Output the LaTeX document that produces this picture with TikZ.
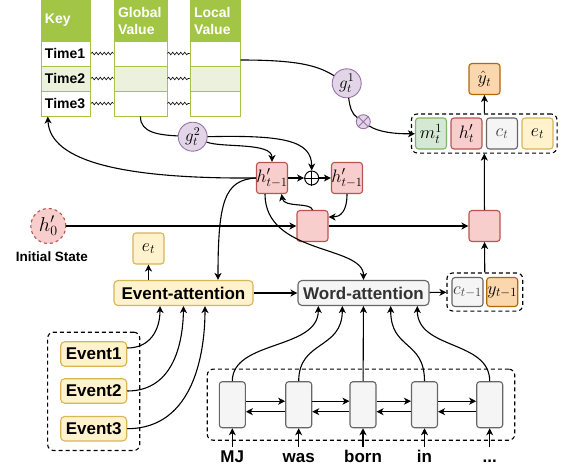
\documentclass[tikz,border=0pt]{standalone}
\usepackage{fix-cm}
\usepackage[no-math]{fontspec}
\setmainfont{Liberation Sans}
\usetikzlibrary{arrows.meta, positioning, fit, calc, decorations.pathmorphing}
\definecolor{redfill}{HTML}{F8CECC}
\definecolor{redline}{HTML}{B85450}
\definecolor{purfill}{HTML}{E1D5E7}
\definecolor{purline}{HTML}{9673A6}
\definecolor{yelfill}{HTML}{FFF2CC}
\definecolor{yelline}{HTML}{D6B656}
\definecolor{grayfill}{HTML}{F5F5F5}
\definecolor{grayline}{HTML}{666666}
\definecolor{grnfill}{HTML}{D5E8D4}
\definecolor{grnline}{HTML}{82B366}
\definecolor{orgfill}{HTML}{FAD7AC}
\definecolor{orgline}{HTML}{B46504}
\definecolor{tabhead}{HTML}{A2C546}
\definecolor{tabrow}{HTML}{EBF1DD}

\tikzset{
  conn/.style={line width=1.1pt},
  arr/.style={conn, -{Stealth[length=7pt,width=7pt,inset=2pt]}},
  squig/.style={line width=0.6pt, decorate, decoration={snake, amplitude=1.3pt, segment length=4pt}},
  headcell/.style={draw=tabhead, fill=tabhead, line width=1pt, minimum height=41pt, inner xsep=4pt, inner ysep=0pt, align=left, text=white, font=\fontsize{14}{17}\selectfont\bfseries},
  rowcell/.style={draw=tabhead, fill=white, line width=1pt, minimum height=25pt, inner xsep=4pt, inner ysep=0pt, align=left, font=\fontsize{14}{17}\selectfont\bfseries},
  mathbox/.style={rounded corners=3pt, line width=1.1pt, minimum width=31pt, minimum height=31pt, inner sep=0pt, font=\fontsize{18}{20}\selectfont},
  redbox/.style={mathbox, draw=redline, fill=redfill},
  yelbox/.style={mathbox, draw=yelline, fill=yelfill},
  graybox/.style={mathbox, draw=grayline, fill=grayfill, text=black!75},
  grnbox/.style={mathbox, draw=grnline, fill=grnfill},
  orgbox/.style={mathbox, draw=orgline, fill=orgfill},
  gate/.style={circle, draw=purline, fill=purfill, line width=0.9pt, minimum size=29pt, inner sep=0pt, font=\fontsize{17}{19}\selectfont},
  attn/.style={rounded corners=4pt, line width=1.1pt, minimum height=25pt, inner sep=0pt, font=\fontsize{17}{20}\selectfont\bfseries},
  eventbox/.style={rounded corners=4pt, draw=yelline, fill=yelfill, line width=1.1pt, minimum width=66pt, minimum height=24.5pt, inner sep=0pt, font=\fontsize{17}{20}\selectfont\bfseries},
  lstm/.style={rounded corners=3pt, draw=grayline, fill=grayfill, line width=1.1pt, minimum width=26pt, minimum height=46pt, inner sep=0pt},
  word/.style={anchor=base, text height=12.5pt, text depth=0pt, inner sep=2pt, font=\fontsize{17}{20}\selectfont\bfseries},
  group/.style={draw, rounded corners=6pt, line width=1.1pt, dash pattern=on 4pt off 3pt},
}

\begin{document}
\begin{tikzpicture}[x=1pt, y=-1pt]
\useasboundingbox (0,0) rectangle (566,469);

% memory table
\node[headcell, text width=41.5pt] (khead) at (65.75,20.5) {Key};
\node[headcell, text width=45pt] (gvhead) at (140.5,20.5) {Global\\Value};
\node[headcell, text width=42pt] (lvhead) at (215,20.5) {Local\\Value};
\node[rowcell, text width=41.5pt] (kone) at (65.75,53.5) {Time1};
\node[rowcell, fill=tabrow, text width=41.5pt] (ktwo) at (65.75,78.5) {Time2};
\node[rowcell, text width=41.5pt] (kthree) at (65.75,103.5) {Time3};
\node[rowcell, text width=45pt] (gvone) at (140.5,53.5) {};
\node[rowcell, fill=tabrow, text width=45pt] (gvtwo) at (140.5,78.5) {};
\node[rowcell, text width=45pt] (gvthree) at (140.5,103.5) {};
\node[rowcell, text width=42pt] (lvone) at (215,53.5) {};
\node[rowcell, fill=tabrow, text width=42pt] (lvtwo) at (215,78.5) {};
\node[rowcell, text width=42pt] (lvthree) at (215,103.5) {};
\draw[squig] (kone) -- (gvone);
\draw[squig] (ktwo) -- (gvtwo);
\draw[squig] (kthree) -- (gvthree);
\draw[squig] (gvone) -- (lvone);
\draw[squig] (gvtwo) -- (lvtwo);
\draw[squig] (gvthree) -- (lvthree);

% gates
\node[gate] (gone) at (346.7,83.3) {$g_t^1$};
\node[gate] (gtwo) at (192.7,136.7) {$g_t^2$};
\node[circle, draw=purline, fill=purfill, line width=0.9pt, minimum size=14pt, inner sep=0pt] (mult) at (363.3,121.7) {};
\draw[purline, line width=0.9pt] (mult.45) -- (mult.225) (mult.135) -- (mult.315);

% output side
\node[grnbox] (mone) at (431,133.5) {$m_t^1$};
\node[redbox] (hnow) at (466.5,133.5) {$h'_t$};
\node[graybox] (cnow) at (502,133.5) {$c_t$};
\node[yelbox] (enow) at (537.5,133.5) {$e_t$};
\node[group, fit=(mone)(enow), inner xsep=3.5pt, inner ysep=3.5pt] (tuple) {};
\node[orgbox] (yhat) at (484.5,79) {$\hat{y}_t$};

% decoder states
\node[redbox] (hleft) at (272,178) {$h'_{t-1}$};
\node[circle, draw, fill=white, line width=1pt, minimum size=14pt, inner sep=0pt] (plus) at (311.7,178) {};
\draw[line width=1pt] (plus.north) -- (plus.south) (plus.west) -- (plus.east);
\node[redbox] (hright) at (347,178) {$h'_{t-1}$};
\node[redbox] (rbone) at (312.5,226) {};
\node[redbox] (rbtwo) at (484.5,226) {};
\node[circle, draw=redline, fill=redfill, dashed, line width=1.1pt, minimum size=35pt, inner sep=0pt, font=\fontsize{20}{22}\selectfont] (hzero) at (48.3,226) {$h'_0$};
\node[font=\fontsize{13.5}{16}\selectfont\bfseries] (initlbl) at (52,257) {Initial State};

% attention
\node[yelbox] (eleft) at (148.5,248.5) {$e_t$};
\node[attn, draw=yelline, fill=yelfill, minimum width=139pt] (ea) at (183.5,293) {Event-attention};
\node[attn, draw=grayline, fill=grayfill, text=black!80, minimum width=131pt] (wa) at (363.5,293) {Word-attention};
\node[graybox, minimum height=29pt] (cprev) at (467.5,292) {$c_{t-1}$};
\node[orgbox, minimum height=29pt] (yprev) at (502.2,292) {$y_{t-1}$};
\node[group, fit=(cprev)(yprev), inner xsep=4.5pt, inner ysep=4pt] (prevbox) {};

% events
\node[eventbox] (evone) at (93.7,354) {Event1};
\node[eventbox] (evtwo) at (93.7,391) {Event2};
\node[eventbox] (evthree) at (93.7,428.7) {Event3};
\node[group, fit=(evone)(evthree), inner xsep=12.5pt, inner ysep=9pt] (events) {};

% word encoder
\node[lstm] (lone) at (232.3,404.7) {};
\node[lstm] (ltwo) at (298.7,404.7) {};
\node[lstm] (lthree) at (363,404.7) {};
\node[lstm] (lfour) at (424.5,404.7) {};
\node[lstm] (lfive) at (489.7,404.7) {};
\node[group, fit=(lone)(lfive), inner xsep=11.5pt, inner ysep=12pt] (words) {};
\node[word] (wmj) at (232.3,462) {MJ};
\node[word] (wwas) at (298.7,462) {was};
\node[word] (wborn) at (363,462) {born};
\node[word] (win) at (424.5,462) {in};
\node[word] (wdots) at (489.7,462) {...};

\draw[arr] (wmj) -- (lone);
\draw[arr] (wwas) -- (ltwo);
\draw[arr] (wborn) -- (lthree);
\draw[arr] (win) -- (lfour);
\draw[arr] (wdots) -- (lfive);
\draw[arr] ([yshift=3.5pt]lone.east) -- ([yshift=3.5pt]ltwo.west);
\draw[arr] ([yshift=-7pt]ltwo.west) -- ([yshift=-7pt]lone.east);
\draw[arr] ([yshift=3.5pt]ltwo.east) -- ([yshift=3.5pt]lthree.west);
\draw[arr] ([yshift=-7pt]lthree.west) -- ([yshift=-7pt]ltwo.east);
\draw[arr] ([yshift=3.5pt]lthree.east) -- ([yshift=3.5pt]lfour.west);
\draw[arr] ([yshift=-7pt]lfour.west) -- ([yshift=-7pt]lthree.east);
\draw[arr] ([yshift=3.5pt]lfour.east) -- ([yshift=3.5pt]lfive.west);
\draw[arr] ([yshift=-7pt]lfive.west) -- ([yshift=-7pt]lfour.east);

\draw[arr] (lone.north) .. controls (232.3,340) and (318.3,350) .. ([xshift=-45.2pt]wa.south);
\draw[arr] (ltwo.north) .. controls (298.7,340) and (342.3,350) .. ([xshift=-21.2pt]wa.south);
\draw[arr] (lthree) -- (wa);
\draw[arr] (lfour.north) .. controls (424.5,340) and (390.7,350) .. ([xshift=27.2pt]wa.south);
\draw[arr] (lfive.north) .. controls (489.7,340) and (417.3,350) .. ([xshift=53.8pt]wa.south);

\draw[arr] ([yshift=6pt]evone.east) .. controls (150,348) and (160,330) .. ([xshift=-23.5pt]ea.south);
\draw[arr] (evtwo.east) .. controls (175,391) and (183,340) .. (ea.south);
\draw[arr] (evthree.east) .. controls (195,428.7) and (205,350) .. ([xshift=21.5pt]ea.south);

\draw[arr] (ea.north -| eleft) -- (eleft.south);
\draw[arr] (ea) -- (wa);
\draw[arr] (wa) -- (prevbox);
\draw[arr] (prevbox) -- (rbtwo);
\draw[arr] (hzero) -- (rbone);
\draw[arr] (rbone) -- (rbtwo);
\draw[arr] (rbtwo) -- (tuple);
\draw[arr] (tuple) -- (yhat);

% memory read and write
\draw[conn] ([yshift=-6.5pt]lvone.east) .. controls (300,60) and (318,66) .. (gone);
\draw[conn] (gone) .. controls (350,108) and (352,114) .. (mult);
\draw[arr] (mult) .. controls (378,132) and (395,134) .. (mone);
\draw[conn] (gvthree.south) .. controls (140,133) and (160,135) .. (gtwo);
\draw[arr] (gtwo) .. controls (222,148) and (272,142) .. (hleft.north);
\draw[arr] (gtwo.east) .. controls (282,135) and (311.7,140) .. (plus.north);
\draw[arr] (hleft) -- (plus);
\draw[arr] (plus) -- (hright);
\draw[arr] (hright.south) .. controls (347,212) and (340,217) .. ([yshift=9pt]rbone.east);
\draw[arr] (rbone.north) .. controls (311,202) and (284,208) .. ([xshift=9.5pt]hleft.south);
\draw[arr] (hleft.west) .. controls (125,179) and (50,162) .. ([xshift=-18pt]kthree.south);
\draw[arr] (hleft.west) .. controls (225,180) and (218,200) .. ([xshift=34.5pt]ea.north);
\draw[arr] ([xshift=-7pt]hleft.south) .. controls (265,255) and (363.5,245) .. (wa.north);
\end{tikzpicture}
\end{document}
